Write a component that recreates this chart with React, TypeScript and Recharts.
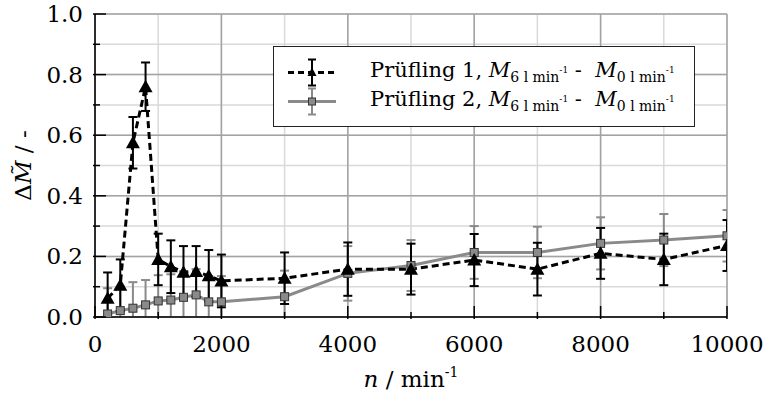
import React from "react";
import { ComposedChart, Line, XAxis, YAxis, CartesianGrid, ErrorBar, Legend } from "recharts";

// speed steps in min^-1
const speeds = [200, 400, 600, 800, 1000, 1200, 1400, 1600, 1800, 2000, 3000, 4000, 5000, 6000, 7000, 8000, 9000, 10000];

// Prüfling 1: mean torque difference and its error
const dut1Mean = [0.062, 0.105, 0.575, 0.76, 0.19, 0.166, 0.148, 0.15, 0.136, 0.119, 0.128, 0.158, 0.158, 0.188, 0.158, 0.21, 0.19, 0.236];
const dut1Err = [0.085, 0.085, 0.085, 0.08, 0.085, 0.087, 0.086, 0.084, 0.085, 0.087, 0.085, 0.088, 0.084, 0.086, 0.087, 0.084, 0.085, 0.084];

// Prüfling 2
const dut2Mean = [0.01, 0.021, 0.029, 0.04, 0.053, 0.056, 0.065, 0.073, 0.05, 0.05, 0.067, 0.144, 0.17, 0.213, 0.213, 0.243, 0.254, 0.268];
const dut2Err = [0.085, 0.08, 0.086, 0.082, 0.085, 0.085, 0.086, 0.085, 0.085, 0.085, 0.086, 0.09, 0.084, 0.087, 0.085, 0.086, 0.086, 0.085];

const seriesNames = ["Prüfling 1", "Prüfling 2"];

const xTicks = [0, 1000, 2000, 3000, 4000, 5000, 6000, 7000, 8000, 9000, 10000];
const xMajor = [0, 2000, 4000, 6000, 8000, 10000];
const yTicks = [0, 0.1, 0.2, 0.3, 0.4, 0.5, 0.6, 0.7, 0.8, 0.9, 1];
const yMajor = [0, 0.2, 0.4, 0.6, 0.8, 1];

const data = speeds.map((n, i) => ({
  n,
  d1: dut1Mean[i],
  e1: dut1Err[i],
  d2: dut2Mean[i],
  e2: dut2Err[i],
}));

const FONT = "'DejaVu Serif', serif";
const GRAY = "#8a8a8a";
const TICK_MAJOR = 13;
const TICK_MINOR = 7;

// chart geometry
const CHART_W = 766;
const CHART_H = 395;
const MARGIN = { top: 14, right: 39, bottom: 0, left: 0 };
const Y_AXIS_W = 95;
const X_AXIS_H = 78;
const plotBox = {
  x: MARGIN.left + Y_AXIS_W,
  y: MARGIN.top,
  w: CHART_W - MARGIN.left - MARGIN.right - Y_AXIS_W,
  h: CHART_H - MARGIN.top - MARGIN.bottom - X_AXIS_H,
};

const isMajorX = (v: number) => xMajor.includes(v);
const isMajorY = (v: number) => yMajor.some((m) => Math.abs(m - v) < 1e-9);

const BottomTick = (p: any) => {
  const { x, y, payload } = p;
  const major = isMajorX(payload.value);
  return (
    <g>
      <line x1={x} x2={x} y1={y} y2={y - (major ? TICK_MAJOR : TICK_MINOR)} stroke="#000" strokeWidth={1.5} />
      {major && (
        <text x={x} y={y + 33} textAnchor="middle" fontFamily={FONT} fontSize={23} fill="#000">
          {payload.value}
        </text>
      )}
    </g>
  );
};

const TopTick = (p: any) => {
  const { x, y, payload } = p;
  const major = isMajorX(payload.value);
  return <line x1={x} x2={x} y1={y} y2={y + (major ? TICK_MAJOR : TICK_MINOR)} stroke="#000" strokeWidth={1.5} />;
};

const LeftTick = (p: any) => {
  const { x, y, payload } = p;
  const major = isMajorY(payload.value);
  return (
    <g>
      <line x1={x} x2={x + (major ? TICK_MAJOR : TICK_MINOR)} y1={y} y2={y} stroke="#000" strokeWidth={1.5} />
      {major && (
        <text x={x - 10} y={y + 8} textAnchor="end" fontFamily={FONT} fontSize={23} fill="#000">
          {payload.value.toFixed(1)}
        </text>
      )}
    </g>
  );
};

const RightTick = (p: any) => {
  const { x, y, payload } = p;
  const major = isMajorY(payload.value);
  return <line x1={x} x2={x - (major ? TICK_MAJOR : TICK_MINOR)} y1={y} y2={y} stroke="#000" strokeWidth={1.5} />;
};

const XTitle = (p: any) => {
  const { x, y, width } = p.viewBox;
  return (
    <text x={x + width / 2} y={y + 70} textAnchor="middle" fontFamily={FONT} fontSize={23} fill="#000">
      <tspan fontStyle="italic">n</tspan>
      <tspan> / min</tspan>
      <tspan dy={-10} fontSize={14}>-1</tspan>
    </text>
  );
};

const YTitle = (p: any) => {
  const { x, y, height } = p.viewBox;
  const cx = x + 31;
  const cy = y + height / 2;
  return (
    <text x={cx} y={cy} transform={`rotate(-90, ${cx}, ${cy})`} textAnchor="middle" fontFamily={FONT} fontSize={23} fill="#000">
      Δ<tspan fontStyle="italic">{"M\u0303"}</tspan> / -
    </text>
  );
};

const TriangleDot = (p: any) => {
  const { cx, cy, index } = p;
  if (cx == null || cy == null) return <g key={`t${index}`} />;
  return (
    <polygon
      key={`t${index}`}
      points={`${cx},${cy - 7} ${cx - 7},${cy + 5.5} ${cx + 7},${cy + 5.5}`}
      fill="#000"
    />
  );
};

const SquareDot = (p: any) => {
  const { cx, cy, index } = p;
  if (cx == null || cy == null) return <g key={`s${index}`} />;
  return <rect key={`s${index}`} x={cx - 4} y={cy - 4} width={8} height={8} fill={GRAY} stroke="#333" strokeWidth={1} />;
};

const subStyle: React.CSSProperties = { fontSize: 14, position: "relative", top: 5 };
const supStyle: React.CSSProperties = { fontSize: 9, position: "relative", top: -9 };

const Formula = () => (
  <>
    <i>M</i>
    <span style={subStyle}>
      6 l min<span style={supStyle}>-1</span>
    </span>
    {" -\u00a0 "}
    <i>M</i>
    <span style={subStyle}>
      0 l min<span style={supStyle}>-1</span>
    </span>
  </>
);

const LegendSymbol = ({ idx }: { idx: number }) => {
  const black = idx === 0;
  const c = black ? "#000" : GRAY;
  return (
    <svg width={48} height={29} style={{ display: "block" }}>
      <line x1={0} x2={48} y1={14.5} y2={14.5} stroke={c} strokeWidth={3} strokeDasharray={black ? "6 4" : undefined} />
      <line x1={24} x2={24} y1={1.5} y2={27.5} stroke={c} strokeWidth={2} />
      <line x1={20} x2={28} y1={1.5} y2={1.5} stroke={c} strokeWidth={2} />
      <line x1={20} x2={28} y1={27.5} y2={27.5} stroke={c} strokeWidth={2} />
      {black ? (
        <polygon points="24,9.5 19.5,18 28.5,18" fill="#000" />
      ) : (
        <rect x={20.5} y={11} width={7} height={7} fill={GRAY} stroke="#333" strokeWidth={1} />
      )}
    </svg>
  );
};

const LegendBox = () => (
  <div
    style={{
      width: 422,
      height: 81,
      boxSizing: "border-box",
      border: "1.5px solid #222",
      background: "#fff",
      padding: "11px 0 0 14px",
      fontFamily: FONT,
      color: "#000",
    }}
  >
    {seriesNames.map((name, i) => (
      <div key={name} style={{ display: "flex", alignItems: "center", height: 29 }}>
        <LegendSymbol idx={i} />
        <span style={{ marginLeft: 34, fontSize: 21, whiteSpace: "nowrap", lineHeight: "29px" }}>
          {name}, <Formula />
        </span>
      </div>
    ))}
  </div>
);

// curves, markers and error bars stay inside the frame
const clipCss = `
.recharts-line-curve, .recharts-line-dots, .recharts-errorBars, .recharts-errorBar {
  clip-path: url(#plot-clip);
}`;

export default function App() {
  return (
    <div style={{ position: "absolute", left: 0, top: 0, width: CHART_W, height: CHART_H, background: "#fff", fontFamily: FONT }}>
      <svg width={0} height={0} style={{ position: "absolute" }}>
        <defs>
          <clipPath id="plot-clip" clipPathUnits="userSpaceOnUse">
            <rect x={plotBox.x} y={plotBox.y} width={plotBox.w} height={plotBox.h} />
          </clipPath>
        </defs>
      </svg>
      <style>{clipCss}</style>
      <ComposedChart width={CHART_W} height={CHART_H} data={data} margin={MARGIN}>
        <CartesianGrid verticalValues={xTicks} horizontalValues={yTicks} stroke="#d9d9d9" strokeWidth={1.5} />
        <CartesianGrid verticalValues={xMajor} horizontalValues={yMajor} stroke="#a3a3a3" strokeWidth={1.5} />
        <XAxis
          dataKey="n"
          type="number"
          domain={[0, 10000]}
          ticks={xTicks}
          interval={0}
          height={X_AXIS_H}
          tickSize={0}
          tickLine={false}
          tick={<BottomTick />}
          axisLine={{ stroke: "#000", strokeWidth: 1.5 }}
          allowDataOverflow
          label={{ content: XTitle }}
        />
        <XAxis
          xAxisId="top"
          orientation="top"
          type="number"
          domain={[0, 10000]}
          ticks={xTicks}
          interval={0}
          height={0}
          tickSize={0}
          tickLine={false}
          tick={<TopTick />}
          axisLine={{ stroke: "#000", strokeWidth: 1.5 }}
          allowDataOverflow
        />
        <YAxis
          type="number"
          domain={[0, 1]}
          ticks={yTicks}
          interval={0}
          width={Y_AXIS_W}
          tickSize={0}
          tickLine={false}
          tick={<LeftTick />}
          axisLine={{ stroke: "#000", strokeWidth: 1.5 }}
          allowDataOverflow
          label={{ content: YTitle }}
        />
        <YAxis
          yAxisId="right"
          orientation="right"
          type="number"
          domain={[0, 1]}
          ticks={yTicks}
          interval={0}
          width={0}
          tickSize={0}
          tickLine={false}
          tick={<RightTick />}
          axisLine={{ stroke: "#000", strokeWidth: 1.5 }}
          allowDataOverflow
        />
        <Line
          dataKey="d2"
          name={seriesNames[1]}
          type="linear"
          stroke={GRAY}
          strokeWidth={3}
          dot={SquareDot}
          activeDot={false}
          isAnimationActive={false}
        >
          <ErrorBar dataKey="e2" width={4.5} stroke={GRAY} strokeWidth={2} direction="y" />
        </Line>
        <Line
          dataKey="d1"
          name={seriesNames[0]}
          type="linear"
          stroke="#000"
          strokeWidth={3}
          strokeDasharray="7 4"
          dot={TriangleDot}
          activeDot={false}
          isAnimationActive={false}
        >
          <ErrorBar dataKey="e1" width={4.5} stroke="#000" strokeWidth={2} direction="y" />
        </Line>
        <Legend
          layout="vertical"
          align="center"
          verticalAlign="middle"
          content={() => <LegendBox />}
          wrapperStyle={{ left: 273, top: 46, width: 422, height: 81, bottom: "auto", right: "auto" }}
        />
      </ComposedChart>
    </div>
  );
}
